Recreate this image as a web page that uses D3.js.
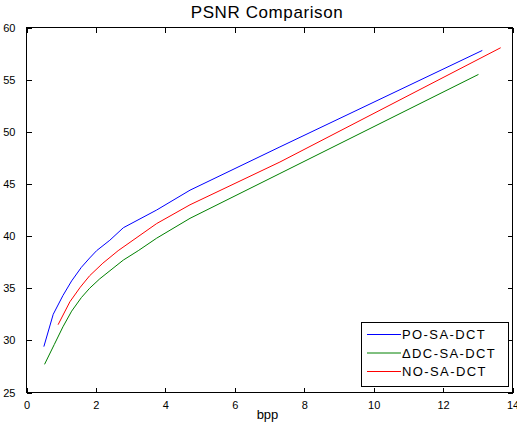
<!DOCTYPE html>
<html>
<head>
<meta charset="utf-8">
<script src="https://cdn.jsdelivr.net/npm/d3@7"></script>
<style>
  html, body { margin: 0; padding: 0; background: #fff; }
  svg { display: block; }
  text { font-family: "Liberation Sans", Arial, Helvetica, sans-serif; fill: #000; }
</style>
</head>
<body>
<svg id="chart" width="517" height="434"></svg>
<script>
// ---- data ----
const title = "PSNR Comparison";
const xLabel = "bpp";
const xTicks = [0, 2, 4, 6, 8, 10, 12, 14];
const yTicks = [25, 30, 35, 40, 45, 50, 55, 60];

const seriesNames = ["PO-SA-DCT", "\u0394DC-SA-DCT", "NO-SA-DCT"];
const seriesColors = ["#0000ff", "#008000", "#ff0000"];

const poBpp  = [0.50, 0.77, 1.05, 1.30, 1.58, 1.82, 2.02, 2.40, 2.79, 3.75, 4.71, 7.30, 13.13];
const poPsnr = [29.4, 32.5, 34.3, 35.7, 37.0, 37.9, 38.6, 39.6, 40.8, 42.5, 44.4, 48.55, 57.8];

const dcBpp  = [0.52, 0.80, 1.05, 1.30, 1.58, 1.82, 2.11, 2.79, 3.22, 3.75, 4.71, 7.30, 13.02];
const dcPsnr = [27.7, 29.6, 31.3, 32.8, 34.1, 35.0, 35.9, 37.7, 38.6, 39.8, 41.7, 46.0, 55.5];

const noBpp  = [0.91, 1.25, 1.55, 1.82, 2.20, 2.64, 3.75, 4.71, 7.30, 13.66];
const noPsnr = [31.5, 33.7, 35.1, 36.2, 37.4, 38.6, 41.2, 43.0, 47.1, 58.06];

const seriesBpp  = [poBpp, dcBpp, noBpp];
const seriesPsnr = [poPsnr, dcPsnr, noPsnr];

// ---- layout ----
const svg = d3.select("#chart");
const L = 26.5, R = 512.5, T = 27.5, B = 392.5;
const x = d3.scaleLinear().domain([0, 14]).range([L, R]);
const y = d3.scaleLinear().domain([25, 60]).range([B, T]);
const tickLen = 5;

// series lines
const line = d3.line().x(d => x(d[0])).y(d => y(d[1]));
seriesBpp.forEach((bx, i) => {
  const pts = bx.map((v, j) => [v, seriesPsnr[i][j]]);
  svg.append("path")
    .attr("d", line(pts))
    .attr("fill", "none")
    .attr("stroke", seriesColors[i])
    .attr("stroke-width", 1);
});

// axes box with inward ticks
const axes = svg.append("g").attr("shape-rendering", "crispEdges");
axes.append("rect")
  .attr("x", L).attr("y", T).attr("width", R - L).attr("height", B - T)
  .attr("fill", "none").attr("stroke", "#000").attr("stroke-width", 1);

const xAxisB = d3.axisBottom(x).tickValues(xTicks).tickSize(-tickLen).tickPadding(9).tickFormat(d3.format("d"));
const xAxisT = d3.axisTop(x).tickValues(xTicks).tickSize(-tickLen).tickFormat("");
const yAxisL = d3.axisLeft(y).tickValues(yTicks).tickSize(-tickLen).tickPadding(11).tickFormat(d3.format("d"));
const yAxisR = d3.axisRight(y).tickValues(yTicks).tickSize(-tickLen).tickFormat("");

function styleAxis(g) {
  g.select(".domain").remove();
  g.selectAll(".tick line").attr("stroke", "#000");
  g.selectAll(".tick text").attr("font-size", 11).attr("font-family", "Liberation Sans, Arial, sans-serif").attr("fill", "#000");
}
axes.append("g").attr("transform", `translate(0,${B})`).call(xAxisB).call(styleAxis);
axes.append("g").attr("transform", `translate(0,${T})`).call(xAxisT).call(styleAxis);
axes.append("g").attr("transform", `translate(${L},0)`).call(yAxisL).call(styleAxis);
axes.append("g").attr("transform", `translate(${R},0)`).call(yAxisR).call(styleAxis);

// title and label
svg.append("text")
  .attr("x", 267).attr("y", 17.5)
  .attr("text-anchor", "middle")
  .attr("font-size", 17)
  .attr("letter-spacing", 0.6)
  .text(title);

svg.append("text")
  .attr("x", 267.5).attr("y", 418.5)
  .attr("text-anchor", "middle")
  .attr("font-size", 13)
  .text(xLabel);

// legend
const lg = svg.append("g");
lg.append("rect")
  .attr("x", 361.5).attr("y", 322.5).attr("width", 147).attr("height", 64)
  .attr("fill", "#fff").attr("stroke", "#000").attr("stroke-width", 1)
  .attr("shape-rendering", "crispEdges");
const rowY = [334.5, 353, 371.5];
seriesNames.forEach((name, i) => {
  lg.append("line")
    .attr("x1", 367).attr("x2", 401)
    .attr("y1", rowY[i]).attr("y2", rowY[i])
    .attr("stroke", seriesColors[i]).attr("stroke-width", 1);
  lg.append("text")
    .attr("x", 402).attr("y", rowY[i] + 4.8)
    .attr("font-size", 13)
    .attr("letter-spacing", 1.4)
    .text(name);
});
</script>
</body>
</html>
